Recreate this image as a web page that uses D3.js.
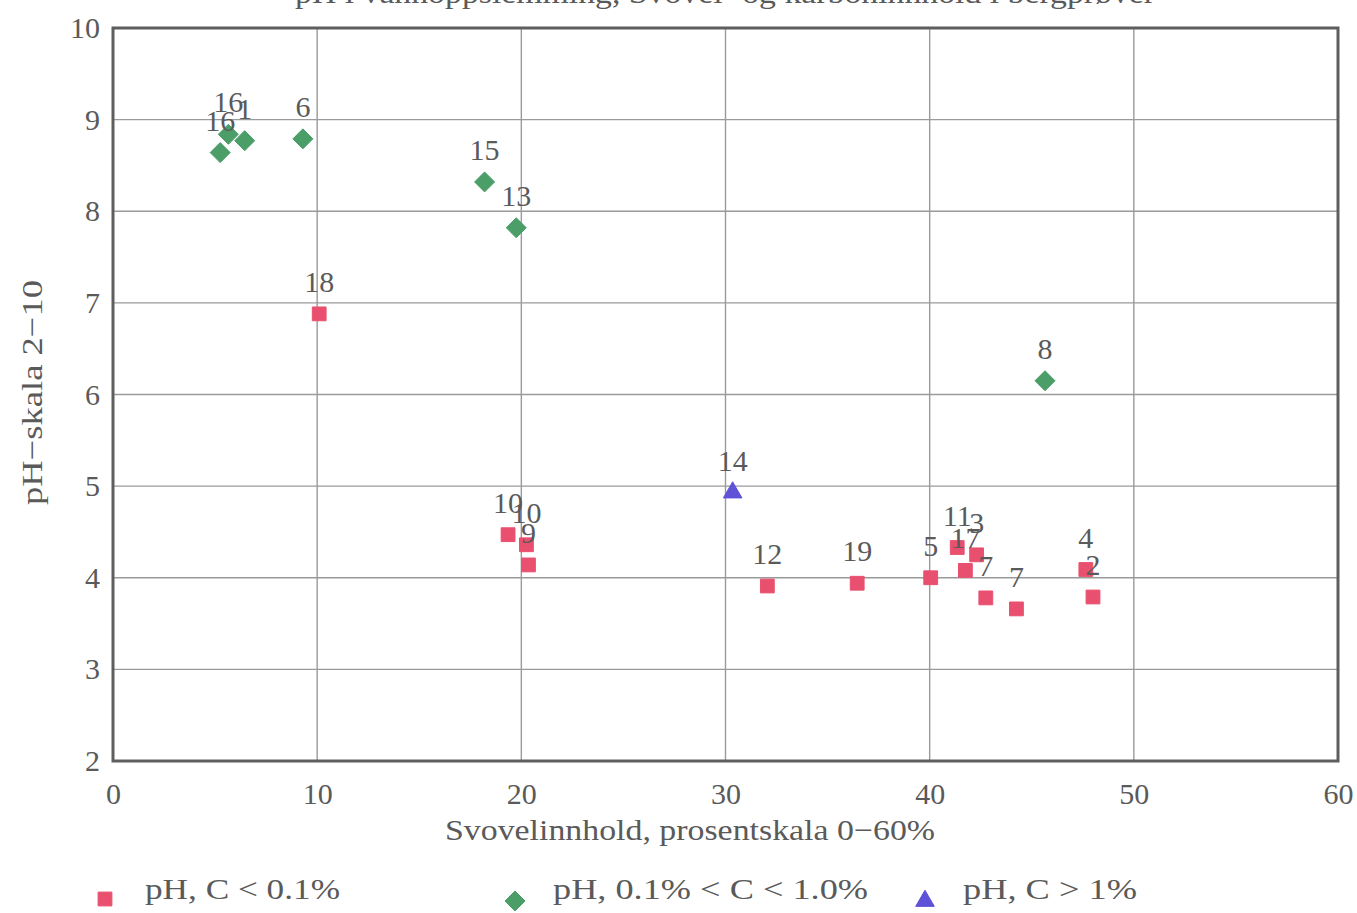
<!DOCTYPE html>
<html>
<head>
<meta charset="utf-8">
<script src="https://cdn.jsdelivr.net/npm/d3@7"></script>
<style>
  html, body { margin: 0; padding: 0; background: #fff; }
  svg { display: block; }
  text { font-family: "Liberation Serif", "DejaVu Serif", serif; fill: #5a5a5a; }
</style>
</head>
<body>
<svg id="chart" width="1357" height="913"></svg>
<script>
// Sample labels, sulphur content (%) and pH, grouped by carbon content
const lowCLabels = ["18", "10", "10", "9", "12", "19", "5", "11", "3", "17", "7", "7", "4", "2"];
const lowCSulphur = [10.1, 19.35, 20.25, 20.35, 32.05, 36.45, 40.05, 41.35, 42.3, 41.75, 42.75, 44.25, 47.65, 48.0];
const lowCPH = [6.88, 4.47, 4.36, 4.14, 3.91, 3.94, 4.0, 4.33, 4.25, 4.08, 3.78, 3.66, 4.09, 3.79];

const midCLabels = ["16", "16", "1", "6", "15", "13", "8"];
const midCSulphur = [5.25, 5.65, 6.45, 9.3, 18.2, 19.75, 45.65];
const midCPH = [8.64, 8.84, 8.77, 8.79, 8.32, 7.82, 6.15];

const highCLabels = ["14"];
const highCSulphur = [30.35];
const highCPH = [4.93];

const xTicks = [0, 10, 20, 30, 40, 50, 60];
const yTicks = [2, 3, 4, 5, 6, 7, 8, 9, 10];

const legendLabels = ["pH,  C < 0.1%", "pH,  0.1% < C < 1.0%", "pH,  C > 1%"];

const colors = { low: "#e9506f", mid: "#4b9e68", high: "#5d52d8" };

const svg = d3.select("#chart");
const plot = { left: 113, right: 1338, top: 28, bottom: 761 };
const fs = "30px";

const x = d3.scaleLinear().domain([0, 60]).range([plot.left, plot.right]);
const y = d3.scaleLinear().domain([2, 10]).range([plot.bottom, plot.top]);

// Title, partly cut off at the top edge
svg.append("text")
  .attr("x", 295).attr("y", 3)
  .attr("textLength", 860).attr("lengthAdjust", "spacingAndGlyphs")
  .style("font-size", fs).attr("fill", "#777")
  .text("pH i vannoppslemming, Svovel- og karboninnhold i bergprøver");

// Grid
const grid = svg.append("g");
grid.selectAll("line.v").data(xTicks.slice(1, -1)).join("line")
  .attr("x1", d => x(d)).attr("x2", d => x(d))
  .attr("y1", plot.top).attr("y2", plot.bottom)
  .attr("stroke", "#9a9a9a").attr("stroke-width", 1.4);
grid.selectAll("line.h").data(yTicks.slice(1, -1)).join("line")
  .attr("x1", plot.left).attr("x2", plot.right)
  .attr("y1", d => y(d)).attr("y2", d => y(d))
  .attr("stroke", "#9a9a9a").attr("stroke-width", 1.4);

// Frame
svg.append("rect")
  .attr("x", plot.left).attr("y", plot.top)
  .attr("width", plot.right - plot.left).attr("height", plot.bottom - plot.top)
  .attr("fill", "none").attr("stroke", "#5e5e5e").attr("stroke-width", 3);

// Axes (labels only, lines come from the frame)
const xAxis = svg.append("g")
  .attr("transform", `translate(0,${plot.bottom})`)
  .call(d3.axisBottom(x).tickValues(xTicks).tickSize(0).tickPadding(22));
xAxis.select(".domain").remove();
xAxis.selectAll("text").style("font-size", fs).attr("fill", "#5a5a5a")
  .style("font-family", "Liberation Serif, serif");

const yAxis = svg.append("g")
  .attr("transform", `translate(${plot.left},0)`)
  .call(d3.axisLeft(y).tickValues(yTicks).tickSize(0).tickPadding(13));
yAxis.select(".domain").remove();
yAxis.selectAll("text").style("font-size", fs).attr("fill", "#5a5a5a")
  .style("font-family", "Liberation Serif, serif");

// Axis titles
svg.append("text")
  .attr("x", 445).attr("y", 840)
  .attr("textLength", 490).attr("lengthAdjust", "spacingAndGlyphs")
  .style("font-size", fs)
  .text("Svovelinnhold, prosentskala 0−60%");

svg.append("text")
  .attr("transform", "translate(42,505) rotate(-90)")
  .attr("textLength", 225).attr("lengthAdjust", "spacingAndGlyphs")
  .style("font-size", fs)
  .text("pH−skala 2−10");

// Marker shapes
const squarePath = d3.symbol().type(d3.symbolSquare).size(190)();
const diamondPath = "M0,-10L10,0L0,10L-10,0Z";
const trianglePath = d3.symbol().type(d3.symbolTriangle).size(150)();

function drawSeries(labels, xs, ys, path, color) {
  const data = labels.map((l, i) => ({ label: l, s: xs[i], ph: ys[i] }));
  const g = svg.append("g");
  g.selectAll("path").data(data).join("path")
    .attr("d", path)
    .attr("transform", d => `translate(${x(d.s)},${y(d.ph)})`)
    .attr("fill", color)
    .attr("stroke", color).attr("stroke-width", 1)
    .attr("stroke-linejoin", "round");
  g.selectAll("text").data(data).join("text")
    .attr("x", d => x(d.s))
    .attr("y", d => y(d.ph) - 22)
    .attr("text-anchor", "middle")
    .style("font-size", fs)
    .text(d => d.label);
}

drawSeries(lowCLabels, lowCSulphur, lowCPH, squarePath, colors.low);
drawSeries(midCLabels, midCSulphur, midCPH, diamondPath, colors.mid);
drawSeries(highCLabels, highCSulphur, highCPH, trianglePath, colors.high);

// Legend
const legend = [
  { x: 105, y: 899, path: squarePath, color: colors.low, text: legendLabels[0], tx: 145, w: 195 },
  { x: 515, y: 901, path: diamondPath, color: colors.mid, text: legendLabels[1], tx: 553, w: 315 },
  { x: 925, y: 901, path: trianglePath, color: colors.high, text: legendLabels[2], tx: 963, w: 174 }
];
const lg = svg.append("g");
lg.selectAll("path").data(legend).join("path")
  .attr("d", d => d.path)
  .attr("transform", d => `translate(${d.x},${d.y})`)
  .attr("fill", d => d.color).attr("stroke", d => d.color);
lg.selectAll("text").data(legend).join("text")
  .attr("x", d => d.tx).attr("y", 899)
  .attr("textLength", d => d.w).attr("lengthAdjust", "spacingAndGlyphs")
  .style("font-size", fs)
  .text(d => d.text);
</script>
</body>
</html>
